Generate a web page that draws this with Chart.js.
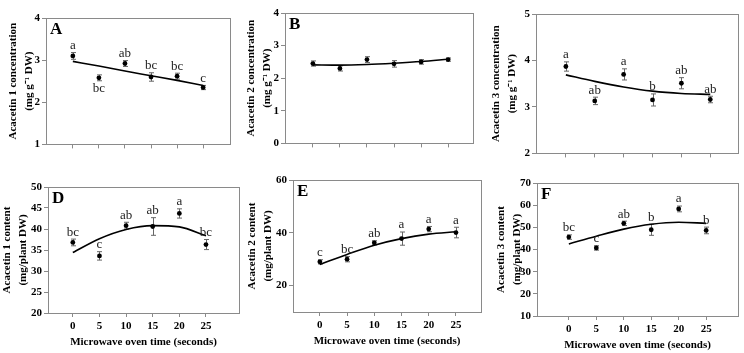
<!DOCTYPE html>
<html>
<head>
<meta charset="utf-8">
<script src="https://cdn.jsdelivr.net/npm/chart.js@4.4.1/dist/chart.umd.min.js"></script>
<style>
  body { margin: 0; background: #fff; width: 744px; height: 353px; position: relative; overflow: hidden; }
  canvas { position: absolute; }
</style>
</head>
<body>
<canvas id="cA"></canvas>
<canvas id="cB"></canvas>
<canvas id="cC"></canvas>
<canvas id="cD"></canvas>
<canvas id="cE"></canvas>
<canvas id="cF"></canvas>
<script>
// microwave oven time (seconds)
const times = [0, 5, 10, 15, 20, 25];

// A - acacetin 1 concentration
const meanA = [3.1, 2.58, 2.92, 2.6, 2.62, 2.35];
const errA = [0.08, 0.07, 0.07, 0.1, 0.07, 0.05];
const fitA = [2.97, 2.86, 2.74, 2.63, 2.52, 2.4];
const letA = ['a', 'bc', 'ab', 'bc', 'bc', 'c'];
const sideA = ['up', 'down', 'up', 'up', 'up', 'up'];

// B - acacetin 2 concentration
const meanB = [2.45, 2.3, 2.57, 2.44, 2.5, 2.57];
const errB = [0.08, 0.08, 0.09, 0.1, 0.07, 0.05];
const fitB = [2.41, 2.4, 2.42, 2.46, 2.51, 2.58];

// C - acacetin 3 concentration
const meanC = [3.87, 3.13, 3.7, 3.15, 3.51, 3.16];
const errC = [0.1, 0.08, 0.12, 0.13, 0.12, 0.07];
const fitC = [3.69, 3.55, 3.43, 3.34, 3.29, 3.27];
const letC = ['a', 'ab', 'a', 'b', 'ab', 'ab'];

// D - acacetin 1 content
const meanD = [36.8, 33.6, 40.8, 40.6, 43.7, 36.3];
const errD = [0.8, 1.0, 0.8, 2.1, 1.1, 1.2];
const fitD = [34.4, 37.7, 39.9, 40.8, 40.5, 38.4];
const letD = ['bc', 'c', 'ab', 'ab', 'a', 'bc'];

// E - acacetin 2 content
const meanE = [29, 30, 36.2, 37.8, 41.4, 40.1];
const errE = [0.8, 1.0, 0.8, 2.5, 1.0, 2.0];
const fitE = [28, 31.8, 35.3, 37.8, 39.5, 40.4];
const letE = ['c', 'bc', 'ab', 'a', 'a', 'a'];

// F - acacetin 3 content
const meanF = [45.6, 40.7, 51.8, 48.9, 58.3, 48.6];
const errF = [1.0, 1.0, 1.0, 2.5, 1.3, 1.5];
const fitF = [42.5, 46, 49.2, 51.4, 52.3, 51.8];
const letF = ['bc', 'c', 'ab', 'b', 'a', 'b'];

const ticksD = [20, 25, 30, 35, 40, 45, 50];
const ticksE = [20, 40, 60];

Chart.defaults.font.family = "'Liberation Serif', 'Times New Roman', serif";
Chart.defaults.color = '#000';

const frameColor = '#8a8a8a';

function makePanel(id, p) {
  const canvas = document.getElementById(id);
  const padTop = 10, padRight = 3;
  const xH = p.bottomRow ? 40 : 6;
  const w = p.yW + (p.right - p.left) + padRight;
  const h = padTop + (p.bottom - p.top) + xH;
  canvas.width = w;
  canvas.height = h;
  canvas.style.left = (p.left - p.yW) + 'px';
  canvas.style.top = (p.top - padTop) + 'px';

  const extras = {
    id: 'extras_' + id,
    beforeDatasetsDraw(chart) {
      const ctx = chart.ctx, xs = chart.scales.x, ys = chart.scales.y;
      ctx.save();
      ctx.strokeStyle = '#666';
      ctx.lineWidth = 1;
      p.mean.forEach((m, i) => {
        const x = Math.round(xs.getPixelForValue(times[i])) + 0.5;
        const y1 = ys.getPixelForValue(m - p.err[i]);
        const y2 = ys.getPixelForValue(m + p.err[i]);
        ctx.beginPath();
        ctx.moveTo(x, y1); ctx.lineTo(x, y2);
        ctx.moveTo(x - 2.5, y1); ctx.lineTo(x + 2.5, y1);
        ctx.moveTo(x - 2.5, y2); ctx.lineTo(x + 2.5, y2);
        ctx.stroke();
      });
      ctx.restore();
    },
    afterDraw(chart) {
      const ctx = chart.ctx, a = chart.chartArea;
      const xs = chart.scales.x, ys = chart.scales.y;
      ctx.save();
      ctx.strokeStyle = frameColor;
      ctx.lineWidth = 1;
      ctx.strokeRect(Math.round(a.left) + 0.5, Math.round(a.top) + 0.5,
        Math.round(a.right - a.left), Math.round(a.bottom - a.top));
      if (p.tag) {
        ctx.fillStyle = '#000';
        ctx.font = "bold 17px 'Liberation Serif'";
        ctx.textAlign = 'left';
        ctx.textBaseline = 'top';
        ctx.fillText(p.tag, a.left + 4, a.top + 3);
      }
      if (p.letters) {
        ctx.font = "13px 'Liberation Serif'";
        ctx.fillStyle = '#222';
        ctx.textAlign = 'center';
        ctx.textBaseline = 'middle';
        p.letters.forEach((t, i) => {
          const x = xs.getPixelForValue(times[i]);
          const down = p.side && p.side[i] === 'down';
          const y = down ? ys.getPixelForValue(p.mean[i] - p.err[i]) + 8
                         : ys.getPixelForValue(p.mean[i] + p.err[i]) - 7;
          ctx.fillText(t, x, y);
        });
      }
      ctx.restore();
    }
  };

  const yTickList = p.yTicks;
  return new Chart(canvas, {
    data: {
      datasets: [
        {
          type: 'scatter',
          data: times.map((t, i) => ({ x: t, y: p.mean[i] })),
          pointRadius: 2.4,
          pointBackgroundColor: '#000',
          pointBorderColor: '#000',
          pointBorderWidth: 0
        },
        {
          type: 'line',
          data: times.map((t, i) => ({ x: t, y: p.fit[i] })),
          borderColor: '#000',
          borderWidth: 1.6,
          pointRadius: 0,
          fill: false,
          cubicInterpolationMode: 'monotone'
        }
      ]
    },
    options: {
      responsive: false,
      animation: false,
      devicePixelRatio: 1,
      layout: { padding: { top: padTop, right: padRight, left: 0, bottom: 0 } },
      plugins: { legend: { display: false }, tooltip: { enabled: false } },
      scales: {
        x: {
          type: 'linear',
          min: p.xMin,
          max: p.xMax,
          afterBuildTicks: s => { s.ticks = times.map(v => ({ value: v })); },
          afterFit: s => { s.height = xH; },
          grid: { drawOnChartArea: false, tickLength: 4, color: frameColor },
          border: { color: frameColor },
          ticks: {
            padding: 3,
            font: { size: 11, weight: 'bold' },
            callback: v => p.bottomRow ? v : ''
          },
          title: {
            display: !!p.bottomRow,
            text: 'Microwave oven time (seconds)',
            font: { size: 11, weight: 'bold' },
            padding: { top: 0, bottom: 4 }
          }
        },
        y: {
          min: p.yMin,
          max: p.yMax,
          afterBuildTicks: s => { if (yTickList) s.ticks = yTickList.map(v => ({ value: v })); },
          afterFit: s => { s.width = p.yW; },
          grid: { drawOnChartArea: false, tickLength: 4, color: frameColor },
          border: { color: frameColor },
          ticks: { stepSize: p.step, padding: 2, font: { size: 11, weight: 'bold' } },
          title: {
            display: true,
            text: p.title,
            font: { size: 11, weight: 'bold', lineHeight: 16 / 11 },
            padding: { top: 0, bottom: 0 }
          }
        }
      }
    },
    plugins: [extras]
  });
}

const concUnit = '(mg g\u207B\u00B9 DW)';
const contUnit = '(mg/plant DW)';

makePanel('cA', { mean: meanA, err: errA, fit: fitA, letters: letA, side: sideA, tag: 'A',
  title: ['Acacetin 1 concentration', concUnit], yMin: 1, yMax: 4, step: 1,
  left: 46, right: 231, top: 18, bottom: 147, yW: 41, xMin: -5.15, xMax: 30.15 });
makePanel('cB', { mean: meanB, err: errB, fit: fitB, tag: 'B',
  title: ['Acacetin 2 concentration', concUnit], yMin: 0, yMax: 4, step: 1,
  left: 285, right: 474, top: 13, bottom: 146, yW: 42, xMin: -5.15, xMax: 29.6 });
makePanel('cC', { mean: meanC, err: errC, fit: fitC, letters: letC,
  title: ['Acacetin 3 concentration', concUnit], yMin: 2, yMax: 5, step: 1,
  left: 536, right: 739, top: 14, bottom: 156, yW: 48, xMin: -5.17, xMax: 29.8 });
makePanel('cD', { mean: meanD, err: errD, fit: fitD, letters: letD, tag: 'D', bottomRow: true,
  title: ['Acacetin 1 content', contUnit], yMin: 20, yMax: 50, yTicks: ticksD,
  left: 48, right: 240, top: 187, bottom: 313, yW: 49, xMin: -4.66, xMax: 31.2 });
makePanel('cE', { mean: meanE, err: errE, fit: fitE, letters: letE, tag: 'E', bottomRow: true,
  title: ['Acacetin 2 content', contUnit], yMin: 10, yMax: 60, yTicks: ticksE,
  left: 293, right: 482, top: 180, bottom: 312, yW: 49, xMin: -4.93, xMax: 29.6 });
makePanel('cF', { mean: meanF, err: errF, fit: fitF, letters: letF, tag: 'F', bottomRow: true,
  title: ['Acacetin 3 content', contUnit], yMin: 10, yMax: 70, step: 10,
  left: 537, right: 739, top: 183, bottom: 316, yW: 44, xMin: -5.8, xMax: 30.8 });
</script>
</body>
</html>
